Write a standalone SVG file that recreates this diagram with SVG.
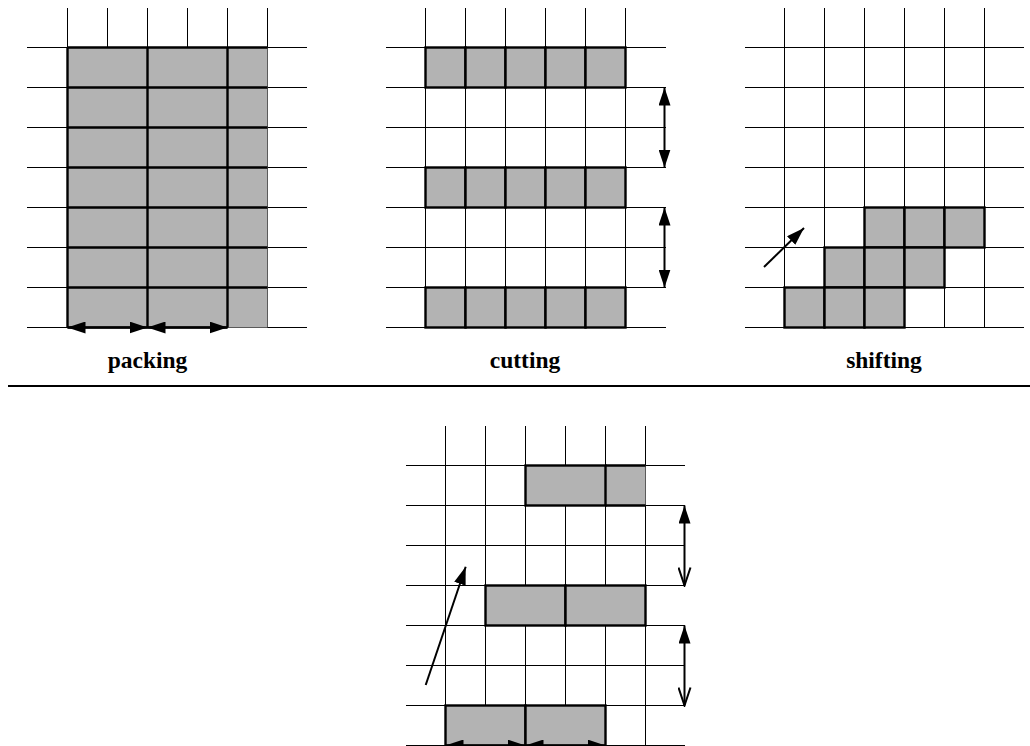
<svg xmlns="http://www.w3.org/2000/svg" width="1030" height="746" viewBox="0 0 1030 746">
<style>
.grid{stroke:#000;stroke-width:1;fill:none}
.fill{fill:#b3b3b3;stroke:none}
.cell{fill:#b3b3b3;stroke:#000;stroke-width:2.4}
.thick{stroke:#000;stroke-width:2.4;fill:none}
.arr{stroke:#000;stroke-width:2;fill:none}
.lbl{font-family:"Liberation Serif","Times New Roman",serif;font-weight:bold;font-size:23.5px;text-anchor:middle;fill:#000}
</style>
<defs>
<marker id="hf" viewBox="0 0 18 12" markerUnits="userSpaceOnUse" markerWidth="18" markerHeight="12" refX="18" refY="6" orient="auto-start-reverse">
<path d="M0,0 L18,6 L0,12 z" fill="#000"/>
</marker>
<marker id="ho" viewBox="-1 -1 20 14" markerUnits="userSpaceOnUse" markerWidth="20" markerHeight="14" refX="18" refY="6" orient="auto">
<path d="M0,0 L18,6 L0,12" fill="none" stroke="#000" stroke-width="2"/>
</marker>
</defs>
<rect width="1030" height="746" fill="#fff"/>

<!-- Panel 1: packing -->
<g id="packing">
<path class="grid" d="M67.5,8V327.5M107.5,8V327.5M147.5,8V327.5M187.5,8V327.5M227.5,8V327.5M267.5,8V327.5
M27,47.5H307M27,87.5H307M27,127.5H307M27,167.5H307M27,207.5H307M27,247.5H307M27,287.5H307M27,327.5H307"/>
<rect class="fill" x="67.5" y="47.5" width="200" height="280"/>
<path class="thick" d="M67.5,47.5H267.5M67.5,87.5H267.5M67.5,127.5H267.5M67.5,167.5H267.5M67.5,207.5H267.5M67.5,247.5H267.5M67.5,287.5H267.5M67.5,327.5H227.5
M67.5,47.5V327.5M147.5,47.5V327.5M227.5,47.5V327.5"/>
</g>

<!-- Panel 2: cutting -->
<g id="cutting">
<path class="grid" d="M425.5,8V327.5M465.5,8V327.5M505.5,8V327.5M545.5,8V327.5M585.5,8V327.5M625.5,8V327.5
M386,47.5H666M386,87.5H666M386,127.5H666M386,167.5H666M386,207.5H666M386,247.5H666M386,287.5H666M386,327.5H666"/>
<g id="cut-row1">
<rect class="cell" x="425.5" y="47.5" width="40" height="40"/><rect class="cell" x="465.5" y="47.5" width="40" height="40"/><rect class="cell" x="505.5" y="47.5" width="40" height="40"/><rect class="cell" x="545.5" y="47.5" width="40" height="40"/><rect class="cell" x="585.5" y="47.5" width="40" height="40"/>
</g>
<g id="cut-row2">
<rect class="cell" x="425.5" y="167.5" width="40" height="40"/><rect class="cell" x="465.5" y="167.5" width="40" height="40"/><rect class="cell" x="505.5" y="167.5" width="40" height="40"/><rect class="cell" x="545.5" y="167.5" width="40" height="40"/><rect class="cell" x="585.5" y="167.5" width="40" height="40"/>
</g>
<g id="cut-row3">
<rect class="cell" x="425.5" y="287.5" width="40" height="40"/><rect class="cell" x="465.5" y="287.5" width="40" height="40"/><rect class="cell" x="505.5" y="287.5" width="40" height="40"/><rect class="cell" x="545.5" y="287.5" width="40" height="40"/><rect class="cell" x="585.5" y="287.5" width="40" height="40"/>
</g>
</g>

<!-- Panel 3: shifting -->
<g id="shifting">
<path class="grid" d="M784.5,8V327.5M824.5,8V327.5M864.5,8V327.5M904.5,8V327.5M944.5,8V327.5M984.5,8V327.5
M745,47.5H1024M745,87.5H1024M745,127.5H1024M745,167.5H1024M745,207.5H1024M745,247.5H1024M745,287.5H1024M745,327.5H1024"/>
<rect class="cell" x="864.5" y="207.5" width="40" height="40"/><rect class="cell" x="904.5" y="207.5" width="40" height="40"/><rect class="cell" x="944.5" y="207.5" width="40" height="40"/>
<rect class="cell" x="824.5" y="247.5" width="40" height="40"/><rect class="cell" x="864.5" y="247.5" width="40" height="40"/><rect class="cell" x="904.5" y="247.5" width="40" height="40"/>
<rect class="cell" x="784.5" y="287.5" width="40" height="40"/><rect class="cell" x="824.5" y="287.5" width="40" height="40"/><rect class="cell" x="864.5" y="287.5" width="40" height="40"/>
</g>

<!-- Panel 4: combined -->
<g id="combined">
<path class="grid" d="M445.5,426V745.5M485.5,426V745.5M525.5,426V745.5M565.5,426V745.5M605.5,426V745.5M645.5,426V745.5
M406,465.5H685M406,505.5H685M406,545.5H685M406,585.5H685M406,625.5H685M406,665.5H685M406,705.5H685M406,745.5H685"/>
<g id="comb-top">
<rect class="fill" x="525.5" y="465.5" width="120" height="40"/>
<rect class="cell" x="525.5" y="465.5" width="80" height="40"/>
<path class="thick" d="M605.5,465.5H645.5M605.5,505.5H645.5"/>
</g>
<g id="comb-mid">
<rect class="cell" x="485.5" y="585.5" width="80" height="40"/><rect class="cell" x="565.5" y="585.5" width="80" height="40"/>
</g>
<g id="comb-bot">
<rect class="cell" x="445.5" y="705.5" width="80" height="40"/><rect class="cell" x="525.5" y="705.5" width="80" height="40"/>
</g>
</g>

<!-- Connectors / arrows -->
<g id="connectors">
<line class="arr" x1="67.5" y1="327.5" x2="147.5" y2="327.5" marker-start="url(#hf)" marker-end="url(#hf)"/>
<line class="arr" x1="147.5" y1="327.5" x2="227.5" y2="327.5" marker-start="url(#hf)" marker-end="url(#hf)"/>
<line class="arr" x1="664.5" y1="87.5" x2="664.5" y2="167.5" marker-start="url(#hf)" marker-end="url(#hf)"/>
<line class="arr" x1="664.5" y1="207.5" x2="664.5" y2="287.5" marker-start="url(#hf)" marker-end="url(#hf)"/>
<line class="arr" x1="764" y1="267" x2="804" y2="228" marker-end="url(#hf)"/>
<line class="arr" x1="445.5" y1="745.5" x2="525.5" y2="745.5" marker-start="url(#hf)" marker-end="url(#hf)"/>
<line class="arr" x1="525.5" y1="745.5" x2="605.5" y2="745.5" marker-start="url(#hf)" marker-end="url(#hf)"/>
<line class="arr" x1="684.5" y1="505.5" x2="684.5" y2="585.5" marker-start="url(#hf)" marker-end="url(#ho)"/>
<line class="arr" x1="684.5" y1="625.5" x2="684.5" y2="705.5" marker-start="url(#hf)" marker-end="url(#ho)"/>
<line class="arr" x1="425.7" y1="685" x2="465.7" y2="566.7" marker-end="url(#hf)"/>
</g>

<line x1="8" y1="386" x2="1030" y2="386" stroke="#000" stroke-width="2"/>

<text class="lbl" x="147.5" y="368">packing</text>
<text class="lbl" x="525" y="368">cutting</text>
<text class="lbl" x="884" y="368">shifting</text>
</svg>
